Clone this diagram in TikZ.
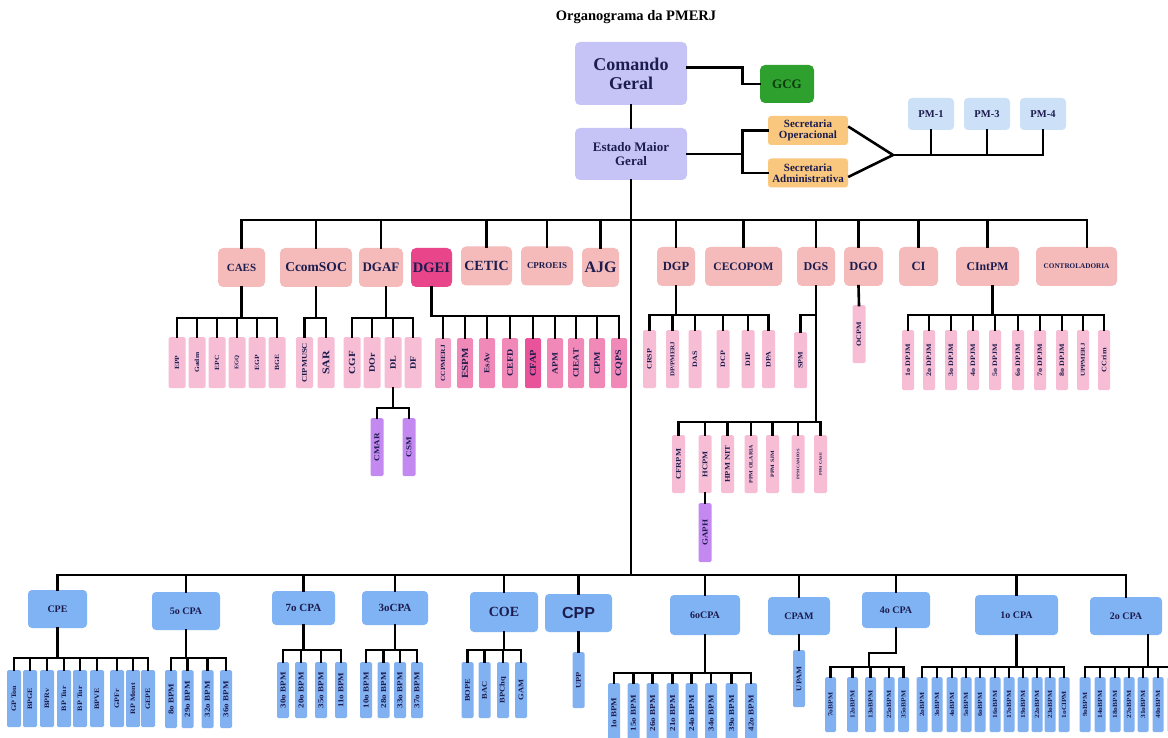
\documentclass[tikz,border=0pt]{standalone}
\usepackage{fontspec}
\setmainfont{Liberation Serif}
\newfontfamily\sansf{Liberation Sans}
\definecolor{navy}{HTML}{1C1C4E}
\definecolor{lav}{HTML}{C6C4F6}
\definecolor{gcgc}{HTML}{2EA02E}
\definecolor{gcgt}{HTML}{0E3A10}
\definecolor{orng}{HTML}{F9C87E}
\definecolor{pmb}{HTML}{CCE0F8}
\definecolor{salm}{HTML}{F5BBBB}
\definecolor{dgeic}{HTML}{E9458A}
\definecolor{pleaf}{HTML}{F7BDD5}
\definecolor{mleaf}{HTML}{F088B8}
\definecolor{mdark}{HTML}{E8539A}
\definecolor{mlight}{HTML}{F3A2C8}
\definecolor{purp}{HTML}{C489F0}
\definecolor{bhead}{HTML}{80B3F3}
\definecolor{bleaf}{HTML}{82B1F1}
\newcommand{\fs}[1]{\bfseries\fontsize{#1}{#1}\selectfont}
\newcommand{\lf}[7]{\node[lfst,fill=#5,minimum height=#4pt,font=\fs{#6}] (#1) at (#2,#3) {\rotatebox{90}{\scalebox{1}[.85]{#7}}};}
\newcommand{\grp}[5]{\coordinate (yy) at (0,#2);
 \draw[ln] (#1) -- (#1 |- yy);
 \draw[ln] (#3.north |- yy) -- (#4.north |- yy);
 \foreach \nn in {#5} {\draw[ln] (\nn.north) -- (\nn.north |- yy);}}
\begin{document}
\begin{tikzpicture}[x=1pt,y=-1pt,
 ln/.style={line width=2.6pt,line cap=rect},
 bx/.style={rounded corners=5pt,inner sep=0pt,text=navy,align=center},
 l2/.style={bx,fill=salm,minimum height=39pt},
 bh/.style={bx,fill=bhead,rounded corners=4pt},
 lfst/.style={rounded corners=1.5pt,inner sep=0pt,minimum width=\lw,anchor=north,text=navy}]
\def\lw{13pt}
\useasboundingbox (0,0) rectangle (1168,738);
\clip (0,0) rectangle (1168,738);
\fill[white] (0,0) rectangle (1168,738);
% title
\node[font=\fs{14.5},text=black] (title) at (636,17) {Organograma da PMERJ};
% top
\node[bx,fill=lav,minimum width=112pt,minimum height=63pt,font=\bfseries\fontsize{18}{19}\selectfont] (cg) at (631,73.5) {Comando\\Geral};
\node[bx,fill=gcgc,minimum width=54pt,minimum height=38pt,text=gcgt,font=\fs{13}] (gcg) at (787,84) {GCG};
\node[bx,fill=lav,minimum width=112pt,minimum height=52pt,font=\bfseries\fontsize{13}{14}\selectfont] (emg) at (631,154) {Estado Maior\\Geral};
\node[bx,fill=orng,rounded corners=3pt,minimum width=80pt,minimum height=29pt,font=\bfseries\fontsize{11}{11.5}\selectfont] (so) at (808,130.5) {Secretaria\\Operacional};
\node[bx,fill=orng,rounded corners=3pt,minimum width=80pt,minimum height=29pt,font=\bfseries\fontsize{11}{11.5}\selectfont] (sa) at (808,173) {Secretaria\\Administrativa};
\node[bx,fill=pmb,rounded corners=4pt,minimum width=46pt,minimum height=32pt,font=\fs{10.5}] (pm1) at (931,114) {PM-1};
\node[bx,fill=pmb,rounded corners=4pt,minimum width=46pt,minimum height=32pt,font=\fs{10.5}] (pm3) at (987,114) {PM-3};
\node[bx,fill=pmb,rounded corners=4pt,minimum width=46pt,minimum height=32pt,font=\fs{10.5}] (pm4) at (1043,114) {PM-4};
\draw[ln] ([yshift=6pt]cg.east) -- ++(55,0) |- (gcg.west);
\draw[ln] (cg.south) -- (emg.north);
\draw[ln] (emg.east) -- ++(55,0) coordinate (sp);
\draw[ln] (so.west) -| (sp) |- (sa.west);
\coordinate (jn) at (893,155);
\draw[ln,line cap=butt] ([yshift=4pt]so.east) -- (jn) -- ([yshift=-4pt]sa.east);
\draw[ln] (jn) -- (pm4.south |- jn) -- (pm4.south);
\draw[ln] (pm1.south) -- (pm1.south |- jn);
\draw[ln] (pm3.south) -- (pm3.south |- jn);
% layer 2
\node[l2,minimum width=47pt,font=\fs{11}] (caes) at (241.5,267.5) {CAES};
\node[l2,minimum width=72pt,font=\fs{13.5}] (ccom) at (316,267.5) {CcomSOC};
\node[l2,minimum width=44pt,font=\fs{13}] (dgaf) at (381,267.5) {DGAF};
\node[l2,fill=dgeic,minimum width=41pt,font=\fs{14.5}] (dgei) at (431.5,267.5) {DGEI};
\node[l2,minimum width=51pt,font=\fs{14}] (cetic) at (486.5,266) {CETIC};
\node[l2,minimum width=52pt,font=\fs{9}] (cproeis) at (547,266) {CPROEIS};
\node[l2,minimum width=37pt,font=\fs{16}] (ajg) at (600.5,267.5) {AJG};
\node[l2,minimum width=38pt,font=\fs{12.5}] (dgp) at (676,266.5) {DGP};
\node[l2,minimum width=77pt,font=\fs{11.5}] (cecopom) at (743.5,266.5) {CECOPOM};
\node[l2,minimum width=38pt,font=\fs{12}] (dgs) at (816,266.5) {DGS};
\node[l2,minimum width=39pt,font=\fs{12.4}] (dgo) at (863.5,266.5) {DGO};
\node[l2,minimum width=39pt,font=\fs{12.6}] (ci) at (918.5,266.5) {CI};
\node[l2,minimum width=63pt,font=\fs{11.8}] (cintpm) at (987.5,266.5) {CIntPM};
\node[l2,minimum width=81pt,font=\fs{7.2}] (contr) at (1076.5,266.5) {CONTROLADORIA};
\coordinate (b2) at (633,220);
\coordinate (b3) at (633,575);
\coordinate (contrt) at ([xshift=10.5pt]contr.north);
\coordinate (dgot) at ([xshift=-5pt]dgo.north);
\coordinate (dgob) at ([xshift=-5pt]dgo.south);
\draw[ln] (emg.south) -- (emg.south |- b3);
\foreach \nn in {caes,ccom,dgaf,cetic,cproeis,ajg,dgp,cecopom,dgs,ci,cintpm} \draw[ln] (\nn.north) -- (\nn.north |- b2);
\draw[ln] (dgot) -- (dgot |- b2);
\draw[ln] (contrt) -- (contrt |- b2);
\draw[ln] (caes.north |- b2) -- (contrt |- b2);
% layer 3 leaves
\def\lw{17pt}
\lf{epp}{177}{337}{51}{pleaf}{7.5}{EPP}
\lf{gadm}{197}{337}{51}{pleaf}{7.5}{Gadm}
\lf{epc}{217}{337}{51}{pleaf}{7.5}{EPC}
\lf{egq}{237}{337}{51}{pleaf}{6.5}{EGQ}
\lf{egp}{257}{337}{51}{pleaf}{7.5}{EGP}
\lf{bge}{277}{337}{51}{pleaf}{7.5}{BGE}
\lf{cipmusc}{304.5}{337}{51}{pleaf}{8.5}{CIPMUSC}
\lf{sar}{326}{337}{51}{pleaf}{12}{SAR}
\lf{cgf}{352}{337}{51}{pleaf}{11}{CGF}
\lf{dor}{372}{337}{51}{pleaf}{10}{DOr}
\lf{dl}{393}{337}{51}{pleaf}{10}{DL}
\lf{df}{413}{337}{51}{pleaf}{10}{DF}
\grp{caes.south}{318}{epp}{bge}{epp,gadm,epc,egq,egp,bge}
\grp{ccom.south}{318}{cipmusc}{sar}{cipmusc,sar}
\coordinate (dgafb) at ([xshift=5pt]dgaf.south);
\grp{dgafb}{318}{cgf}{df}{cgf,dor,dl,df}
\def\lw{13pt}
\lf{cmar}{377}{418}{58}{purp}{9}{CMAR}
\lf{csm}{409}{418}{58}{purp}{9}{CSM}
\grp{dl.south}{408}{cmar}{csm}{cmar,csm}
\def\lw{16pt}
\lf{ccpmerj}{443}{338}{50}{mlight}{7.5}{CCPMERJ}
\lf{espm}{465}{338}{50}{mleaf}{11}{ESPM}
\lf{esav}{487}{338}{50}{mleaf}{9}{EsAv}
\lf{cefd}{510}{338}{50}{mleaf}{10}{CEFD}
\lf{cfap}{533}{338}{50}{mdark}{10.5}{CFAP}
\lf{apm}{555}{338}{50}{mleaf}{9.5}{APM}
\lf{cieat}{576}{338}{50}{mleaf}{9.5}{CIEAT}
\lf{cpmx}{597}{338}{50}{mleaf}{10}{CPM}
\lf{cqps}{619}{338}{50}{mleaf}{10}{CQPS}
\grp{dgei.south}{316}{ccpmerj}{cqps}{ccpmerj,espm,esav,cefd,cfap,apm,cieat,cpmx,cqps}
\draw[ln] (dgei.south |- yy) -- (ccpmerj.north |- yy);
\def\lw{13pt}
\lf{crsp}{649.5}{330}{58}{pleaf}{8}{CRSP}
\lf{dppmerj}{672.5}{330}{58}{pleaf}{7}{DP/PMERJ}
\lf{das}{695}{330}{58}{pleaf}{8}{DAS}
\lf{dcp}{723}{330}{58}{pleaf}{8}{DCP}
\lf{dip}{748}{330}{58}{pleaf}{8}{DIP}
\lf{dpa}{768.5}{330}{58}{pleaf}{8}{DPA}
\grp{dgp.south}{315}{crsp}{dpa}{crsp,dppmerj,das,dcp,dip,dpa}
\lf{spm}{800.5}{332}{56}{pleaf}{8}{SPM}
\lf{ocpm}{859}{305}{58}{pleaf}{8}{OCPM}
\draw[ln] (dgob) -- (ocpm.north);
\lf{cfrpm}{678.5}{435}{58}{pleaf}{8.5}{CFRPM}
\lf{hcpm}{705}{435}{58}{pleaf}{8.5}{HCPM}
\lf{hpmnit}{727.5}{435}{58}{pleaf}{8.5}{HPM NIT}
\lf{ppmol}{751}{435}{58}{pleaf}{6}{PPM OLARIA}
\lf{ppmsjm}{772.5}{435}{58}{pleaf}{6}{PPM SJM}
\lf{ppmcamp}{798}{435}{58}{pleaf}{4.5}{PPM CAMPOS}
\lf{ppmcase}{820.5}{435}{58}{pleaf}{4.5}{PPM CASE}
\grp{dgs.south}{422}{cfrpm}{ppmcase}{cfrpm,hcpm,hpmnit,ppmol,ppmsjm,ppmcamp,ppmcase}
\coordinate (ys) at (0,315);
\draw[ln] (dgs.south |- ys) -| (spm.north);
\lf{gaph}{705}{503}{59}{purp}{9}{GAPH}
\draw[ln] (hcpm.south) -- (gaph.north);
\def\lw{12pt}
\lf{dp1}{908}{330}{60}{pleaf}{8}{1o DPJM}
\lf{dp2}{929}{330}{60}{pleaf}{8}{2o DPJM}
\lf{dp3}{951}{330}{60}{pleaf}{8}{3o DPJM}
\lf{dp4}{973}{330}{60}{pleaf}{8}{4o DPJM}
\lf{dp5}{995}{330}{60}{pleaf}{8}{5o DPJM}
\lf{dp6}{1018}{330}{60}{pleaf}{8}{6o DPJM}
\lf{dp7}{1040}{330}{60}{pleaf}{8}{7o DPJM}
\lf{dp8}{1062}{330}{60}{pleaf}{8}{8o DPJM}
\lf{uppmerj}{1083}{330}{60}{pleaf}{7}{UPPMERJ}
\lf{ccrim}{1104}{330}{60}{pleaf}{8}{CCrim}
\coordinate (cintb) at ([xshift=5pt]cintpm.south);
\grp{cintb}{315}{dp1}{ccrim}{dp1,dp2,dp3,dp4,dp5,dp6,dp7,dp8,uppmerj,ccrim}
% bottom headers
\node[bh,minimum width=59pt,minimum height=38pt,font=\fs{10}] (cpe) at (57.5,609) {CPE};
\node[bh,minimum width=68pt,minimum height=38pt,font=\fs{10}] (cpa5) at (186,611) {5o CPA};
\node[bh,minimum width=63pt,minimum height=34pt,font=\fs{11}] (cpa7) at (303.5,608) {7o CPA};
\node[bh,minimum width=66pt,minimum height=34pt,font=\fs{11}] (cpa3) at (395,608) {3oCPA};
\node[bh,minimum width=68pt,minimum height=40pt,font=\fs{14}] (coe) at (504,612) {COE};
\node[bh,minimum width=67pt,minimum height=38pt,font=\sansf\bfseries\fontsize{16}{16}\selectfont] (cpp) at (578.5,613) {CPP};
\node[bh,minimum width=70pt,minimum height=40pt,font=\fs{10}] (cpa6) at (705,615) {6oCPA};
\node[bh,minimum width=62pt,minimum height=38pt,font=\fs{10}] (cpam) at (799,616) {CPAM};
\node[bh,minimum width=68pt,minimum height=36pt,font=\fs{10}] (cpa4) at (896,610) {4o CPA};
\node[bh,minimum width=83pt,minimum height=40pt,font=\fs{10}] (cpa1) at (1016.5,615) {1o CPA};
\node[bh,minimum width=72pt,minimum height=38pt,font=\fs{10}] (cpa2) at (1126,616) {2o CPA};
\foreach \nn in {cpe,cpa5,cpa7,cpa3,coe,cpp,cpa6,cpam,cpa4,cpa1,cpa2} \draw[ln] (\nn.north) -- (\nn.north |- b3);
\draw[ln] (cpe.north |- b3) -- (cpa2.north |- b3);
% bottom leaves
\def\lw{14pt}
\lf{gptou}{14}{670}{57}{bleaf}{8}{GP Tou}
\lf{bpge}{30}{670}{57}{bleaf}{8}{BPGE}
\lf{bprv}{47}{670}{57}{bleaf}{8}{BPRv}
\lf{bptura}{64}{670}{57}{bleaf}{8}{BP Tur}
\lf{bpturb}{80}{670}{57}{bleaf}{8}{BP Tur}
\lf{bpve}{97}{670}{57}{bleaf}{8}{BPVE}
\lf{gpfr}{117}{670}{57}{bleaf}{8}{GPFr}
\lf{rpmont}{133}{670}{57}{bleaf}{8}{RP Mont}
\lf{gepe}{148}{670}{57}{bleaf}{8}{GEPE}
\grp{cpe.south}{658}{gptou}{gepe}{gptou,bpge,bprv,bptura,bpturb,bpve,gpfr,rpmont,gepe}
\def\lw{12pt}
\lf{bpmviii}{171}{670}{58}{bleaf}{9}{8o BPM}
\lf{bpmxxix}{187.5}{670}{58}{bleaf}{9}{29o BPM}
\lf{bpmxxxii}{207.5}{670}{58}{bleaf}{9}{32o BPM}
\lf{bpmxxxvi}{226}{670}{58}{bleaf}{9}{36o BPM}
\grp{cpa5.south}{658}{bpmviii}{bpmxxxvi}{bpmviii,bpmxxix,bpmxxxii,bpmxxxvi}
\lf{bpmxxx}{283}{662}{56}{bleaf}{9}{30o BPM}
\lf{bpmxx}{301}{662}{56}{bleaf}{9}{20o BPM}
\lf{bpmxxxva}{321}{662}{56}{bleaf}{9}{35o BPM}
\lf{bpmxi}{341}{662}{56}{bleaf}{9}{11o BPM}
\grp{cpa7.south}{650}{bpmxxx}{bpmxi}{bpmxxx,bpmxx,bpmxxxva,bpmxi}
\lf{bpmx}{366}{662}{56}{bleaf}{9}{10o BPM}
\lf{bpmxxviii}{383.5}{662}{56}{bleaf}{9}{28o BPM}
\lf{bpmxxxiii}{400}{662}{56}{bleaf}{9}{33o BPM}
\lf{bpmxxxvii}{417}{662}{56}{bleaf}{9}{37o BPM}
\grp{cpa3.south}{650}{bpmx}{bpmxxxvii}{bpmx,bpmxxviii,bpmxxxiii,bpmxxxvii}
\lf{bope}{467.5}{662}{56}{bleaf}{8.5}{BOPE}
\lf{bac}{484.5}{662}{56}{bleaf}{8.5}{BAC}
\lf{bpchq}{503}{662}{56}{bleaf}{8.5}{BPChq}
\lf{gam}{521}{662}{56}{bleaf}{8.5}{GAM}
\grp{coe.south}{650}{bope}{gam}{bope,bac,bpchq,gam}
\lf{upp}{578.5}{652}{56}{bleaf}{8.5}{UPP}
\draw[ln] (cpp.south) -- (upp.north);
\lf{bpmi}{614}{683}{60}{bleaf}{9}{1o BPM}
\lf{bpmxv}{633.5}{683}{60}{bleaf}{9}{15o BPM}
\lf{bpmxxvi}{652.5}{683}{60}{bleaf}{9}{26o BPM}
\lf{bpmxxi}{672.5}{683}{60}{bleaf}{9}{21o BPM}
\lf{bpmxxiv}{691.5}{683}{60}{bleaf}{9}{24o BPM}
\lf{bpmxxxiv}{711}{683}{60}{bleaf}{9}{34o BPM}
\lf{bpmxxxix}{731.5}{683}{60}{bleaf}{9}{39o BPM}
\lf{bpmxlii}{751}{683}{60}{bleaf}{9}{42o BPM}
\grp{cpa6.south}{673}{bpmi}{bpmxlii}{bpmi,bpmxv,bpmxxvi,bpmxxi,bpmxxiv,bpmxxxiv,bpmxxxix,bpmxlii}
\lf{upam}{799}{650}{57}{bleaf}{8.5}{UPAM}
\draw[ln] (cpam.south) -- (upam.north);
\def\lw{11pt}
\lf{bpmvii}{830.5}{677}{55}{bleaf}{7.5}{7oBPM}
\lf{bpmxii}{852.5}{677}{55}{bleaf}{7.5}{12oBPM}
\lf{bpmxiii}{870.5}{677}{55}{bleaf}{7.5}{13oBPM}
\lf{bpmxxv}{889}{677}{55}{bleaf}{7.5}{25oBPM}
\lf{bpmxxxvb}{903.5}{677}{55}{bleaf}{7.5}{35oBPM}
\coordinate (y4) at (0,653);
\coordinate (k4) at (869,667);
\draw[ln] (cpa4.south) -- (cpa4.south |- y4) -- (k4 |- y4) -- (k4);
\grp{k4}{667}{bpmvii}{bpmxxxvb}{bpmvii,bpmxii,bpmxiii,bpmxxv,bpmxxxvb}
\lf{bpmii}{922}{677}{55}{bleaf}{7.5}{2oBPM}
\lf{bpmiii}{937}{677}{55}{bleaf}{7.5}{3oBPM}
\lf{bpmiv}{952}{677}{55}{bleaf}{7.5}{4oBPM}
\lf{bpmv}{966}{677}{55}{bleaf}{7.5}{5oBPM}
\lf{bpmvi}{980}{677}{55}{bleaf}{7.5}{6oBPM}
\lf{bpmxvi}{995}{677}{55}{bleaf}{7.5}{16oBPM}
\lf{bpmxvii}{1009}{677}{55}{bleaf}{7.5}{17oBPM}
\lf{bpmxix}{1023}{677}{55}{bleaf}{7.5}{19oBPM}
\lf{bpmxxii}{1037}{677}{55}{bleaf}{7.5}{22oBPM}
\lf{bpmxxiii}{1050}{677}{55}{bleaf}{7.5}{23oBPM}
\lf{cipmi}{1064}{677}{55}{bleaf}{7.5}{1oCIPM}
\grp{cpa1.south}{667}{bpmii}{cipmi}{bpmii,bpmiii,bpmiv,bpmv,bpmvi,bpmxvi,bpmxvii,bpmxix,bpmxxii,bpmxxiii,cipmi}
\lf{bpmix}{1085}{677}{55}{bleaf}{7.5}{9oBPM}
\lf{bpmxiv}{1100}{677}{55}{bleaf}{7.5}{14oBPM}
\lf{bpmxviii}{1115}{677}{55}{bleaf}{7.5}{18oBPM}
\lf{bpmxxvii}{1129}{677}{55}{bleaf}{7.5}{27oBPM}
\lf{bpmxxxi}{1143}{677}{55}{bleaf}{7.5}{31oBPM}
\lf{bpmxl}{1158}{677}{55}{bleaf}{7.5}{40oBPM}
\lf{bpmxli}{1173}{677}{55}{bleaf}{7.5}{}
\coordinate (cpa2b) at ([xshift=22pt]cpa2.south);
\grp{cpa2b}{667}{bpmix}{bpmxli}{bpmix,bpmxiv,bpmxviii,bpmxxvii,bpmxxxi,bpmxl,bpmxli}
\end{tikzpicture}
\end{document}
